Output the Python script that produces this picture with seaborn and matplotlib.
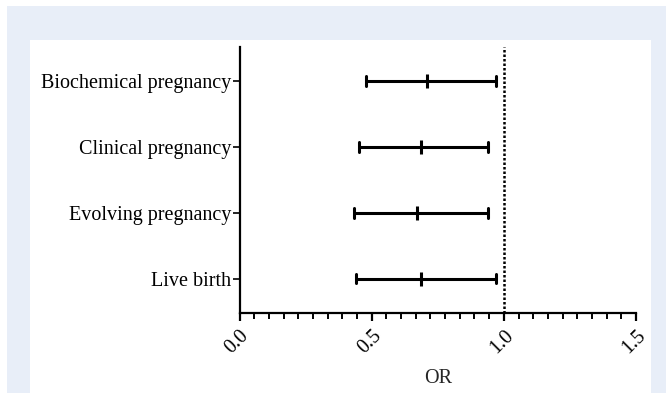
import pandas as pd
import numpy as np
import matplotlib
matplotlib.use("Agg")
import matplotlib.pyplot as plt
from matplotlib.patches import Rectangle
from matplotlib.ticker import MultipleLocator, AutoMinorLocator
import seaborn as sns

# Data: odds ratios with 95% CI
outcomes = ["Biochemical pregnancy", "Clinical pregnancy", "Evolving pregnancy", "Live birth"]
or_est = [0.71, 0.685, 0.67, 0.688]
ci_low = [0.48, 0.451, 0.432, 0.441]
ci_high = [0.97, 0.94, 0.94, 0.97]

# long format: lower, estimate, upper per outcome (median -> estimate, range -> CI)
rows = []
for o, lo, est, hi in zip(outcomes, ci_low, or_est, ci_high):
    for v in (lo, est, hi):
        rows.append({"outcome": o, "OR": v})
df = pd.DataFrame(rows)

sns.set_theme(style="ticks")
plt.rcParams["font.family"] = ["Liberation Serif", "DejaVu Serif"]

fig = plt.figure(figsize=(6.66, 3.93), dpi=100)
fig.patch.set_facecolor("white")
fig.add_artist(Rectangle((7 / 666, 0), 1, 1 - 6 / 393, transform=fig.transFigure,
                         facecolor="#e8eef8", edgecolor="none", zorder=-2))
fig.add_artist(Rectangle((30 / 666, 0), (651 - 30) / 666, 1 - 40 / 393, transform=fig.transFigure,
                         facecolor="white", edgecolor="none", zorder=-1))

ax = fig.add_axes([239.5 / 666, 80.3 / 393, (636 - 239.5) / 666, (312.7 - 47) / 393])
ax.set_facecolor("none")

sns.pointplot(data=df, x="OR", y="outcome", order=outcomes, estimator="median",
              errorbar=("pi", 100), capsize=0.15, color="black", linestyle="none",
              marker="|", markersize=10, markeredgewidth=2.2, err_kws={"linewidth": 2.2},
              ax=ax)

ax.axvline(1.0, color="black", linestyle=(0, (1, 0.8)), linewidth=1.8, zorder=0)

ax.set_xlim(0, 1.5)
ax.set_ylim(3.52, -0.52)
ax.xaxis.set_major_locator(MultipleLocator(0.5))
ax.xaxis.set_minor_locator(AutoMinorLocator(9))
ax.set_xticks([0, 0.5, 1.0, 1.5])
ax.set_xticklabels(["0.0", "0.5", "1.0", "1.5"], rotation=45, ha="right", rotation_mode="anchor")

sns.despine(ax=ax)
for s in ["left", "bottom"]:
    ax.spines[s].set_linewidth(1.6)
    ax.spines[s].set_color("black")
ax.tick_params(axis="x", which="major", length=6, width=1.6, labelsize=14.5, colors="black", pad=4)
ax.tick_params(axis="x", which="minor", length=4, width=1.4, colors="black")
ax.tick_params(axis="y", which="major", length=5, width=1.2, labelsize=14.5, colors="black", pad=1)

ax.set_xlabel("OR", fontsize=14.5, labelpad=8)
ax.set_ylabel("")

fig.savefig("out.png", dpi=100)
